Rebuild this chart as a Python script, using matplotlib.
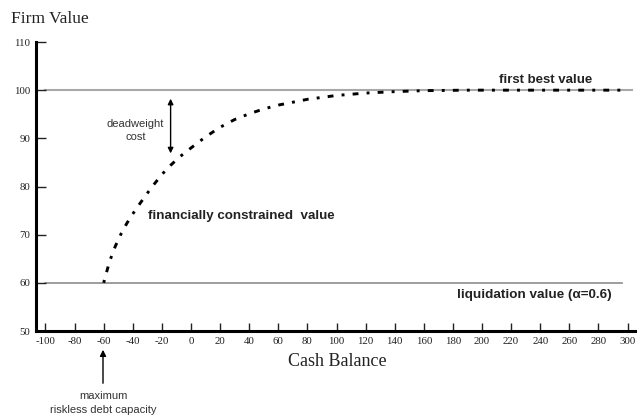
import matplotlib
matplotlib.use("Agg")
import matplotlib.pyplot as plt

# Data
cash = [-60, -56, -52, -48, -44, -40, -35, -30, -25, -20, -14, -8, 0, 10, 20, 30, 40, 50, 60, 80, 100, 120, 140, 160, 190, 240, 300]
value = [60, 64.4, 67.6, 70.2, 72.4, 74.3, 76.5, 78.6, 80.6, 82.5, 84.4, 86.1, 88.0, 90.3, 92.3, 93.9, 95.1, 96.1, 96.9, 98.1, 98.9, 99.4, 99.7, 99.9, 100, 100, 100]
first_best = 100
liquidation = 60
xticks = list(range(-100, 301, 20))
yticks = [50, 60, 70, 80, 90, 100, 110]

W, H = 637, 419
fig = plt.figure(figsize=(W / 100, H / 100), dpi=100)
ax = fig.add_axes([36 / W, (H - 331) / H, (637 - 36) / W, (331 - 42) / H])
ax.set_xlim(-106.5, 306.5)
ax.set_ylim(50, 110)

serif = "Liberation Serif"
sans = "Liberation Sans"

ax.plot([-100, 303], [first_best, first_best], color="#a8a8a8", lw=1.5, zorder=1)
ax.plot([-100, 296], [liquidation, liquidation], color="#8c8c8c", lw=1.2, zorder=1)
ax.plot(cash, value, color="black", lw=2.1, linestyle=(0, (1.0, 2.8, 2.0, 2.8)), zorder=2)

for s in ["top", "right"]:
    ax.spines[s].set_visible(False)
ax.spines["left"].set_linewidth(2.2)
ax.spines["bottom"].set_linewidth(2.2)
ax.spines["left"].set_bounds(50, 110)

ax.set_xticks(xticks)
ax.set_xticklabels([str(t) for t in xticks], fontfamily=serif, fontsize=7.8)
ax.set_yticks(yticks)
ax.set_yticklabels([str(t) for t in yticks], fontfamily=serif, fontsize=7.8)
ax.tick_params(axis="both", direction="in", length=6, width=1.0, colors="#222222", pad=4)
ax.tick_params(axis="y", length=7)

fig.text(11 / W, 1 - 19 / H, "Firm Value", fontfamily=serif, fontsize=12.6, va="center", ha="left", color="#222222")
fig.text(337 / W, 1 - 361 / H, "Cash Balance", fontfamily=serif, fontsize=13, va="center", ha="center", color="#222222")

ax.annotate("", xy=(-14, 98.8), xytext=(-14, 86.3),
            arrowprops=dict(arrowstyle="<|-|>", color="black", lw=1.0, mutation_scale=8))
ax.text(-38, 91.6, "deadweight\ncost", fontfamily=sans, fontsize=8, ha="center", va="center", linespacing=1.3, color="#333333")
ax.text(-29.5, 73.8, "financially constrained  value", fontfamily=sans, fontsize=9.6, fontweight="bold", ha="left", va="center", color="#222222")
ax.text(244, 102.2, "first best value", fontfamily=sans, fontsize=9.5, fontweight="bold", ha="center", va="center", color="#222222")
ax.text(236, 57.5, "liquidation value (\u03b1=0.6)", fontfamily=sans, fontsize=9.7, fontweight="bold", ha="center", va="center", color="#222222")

fig.patches.append(matplotlib.patches.FancyArrowPatch(
    (103 / W, 1 - 386 / H), (103 / W, 1 - 347 / H), transform=fig.transFigure,
    arrowstyle="-|>", mutation_scale=9, color="black", lw=1.0))
fig.text(103 / W, 1 - 396 / H, "maximum", fontfamily=sans, fontsize=8, ha="center", va="center", color="#333333")
fig.text(103 / W, 1 - 410 / H, "riskless debt capacity", fontfamily=sans, fontsize=8, ha="center", va="center", color="#333333")

fig.savefig("out.png", dpi=100)
